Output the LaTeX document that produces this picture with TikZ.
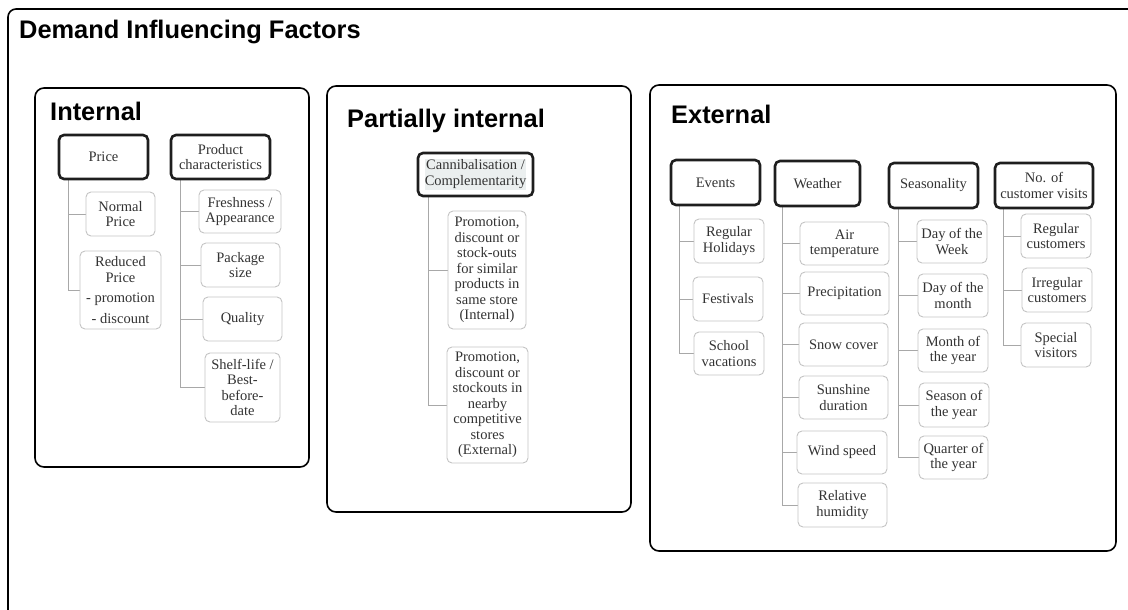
\documentclass[tikz,border=0pt]{standalone}
\usepackage{fontspec}
\usepackage{graphicx}
\setmainfont{Liberation Serif}
\newfontfamily\hdfont{Liberation Sans}
\usetikzlibrary{backgrounds}
\definecolor{txt}{HTML}{333333}
\definecolor{pdark}{HTML}{1E1E1E}
\definecolor{cgray}{HTML}{C4C4C4}
\definecolor{lgray}{HTML}{A8A8A8}
\definecolor{hl}{HTML}{EBEFEF}
\newcommand\fs{\fontsize{14.5}{15.5}\selectfont}
\newcommand\bx[7][child]{\node[#1, minimum width=#5-#3, minimum height=#6-#4] (#2) at ({(#3+#5)/2},{(#4+#6)/2}) {#7};}
\begin{document}
\begin{tikzpicture}[x=1pt,y=-1pt,
  outerframe/.style={draw=black, line width=1.6pt, rounded corners=8pt},
  panel/.style={draw=black, line width=1.6pt, rounded corners=9pt},
  parent/.style={draw=pdark, line width=2.6pt, rounded corners=5pt, inner sep=0pt, align=center, text=txt, font=\fs, fill=white},
  child/.style={draw=cgray, line width=0.9pt, rounded corners=5pt, inner sep=0pt, align=center, text=txt, font=\fs, fill=white},
  conn/.style={draw=lgray, line width=1pt},
  title/.style={anchor=base west, inner sep=0pt, text=black, font=\hdfont\bfseries\fontsize{25.4}{29}\selectfont}]
\useasboundingbox (0,0) rectangle (1128,610);
\clip (0,0) rectangle (1128,610);
\draw[outerframe] (8,9) rectangle (1160,650);
\node[title] (maintitle) at (19,38.5) {Demand Influencing Factors};

% panels
\draw[panel] (35,88) rectangle (309,467);
\draw[panel] (327,86) rectangle (631,512);
\draw[panel] (650,85) rectangle (1116,551);
\node[title] (tint) at (50,121) {Internal};
\node[title] (tpart) at (347,127.5) {Partially internal};
\node[title] (text) at (671,123.5) {External};

% Internal
\bx[parent]{price}{59}{135}{148}{179}{Price}
\bx[parent]{prod}{171}{135}{270}{179}{Product\\characteristics}
\bx{np}{86}{192}{155}{236}{Normal\\Price}
\bx{rp}{80}{251}{161}{329}{Reduced\\Price\\[5pt]- promotion\\[5pt]- discount}
\bx{fa}{199}{190}{281}{233}{Freshness /\\Appearance}
\bx{ps}{201}{243}{280}{287}{Package\\size}
\bx{qu}{203}{297}{282}{341}{Quality}
\bx{sl}{205}{353}{280}{422}{Shelf-life /\\Best-\\before-\\date}

% Partially internal
\bx[parent]{cann}{418}{153}{533}{196}{{\setlength{\fboxsep}{0pt}\colorbox{hl}{\begin{tabular}{@{}c@{}}Cannibalisation /\\Complementarity\end{tabular}}}}
\bx{pra}{448}{211}{526}{329}{Promotion,\\discount or\\stock-outs\\for similar\\products in\\same store\\(Internal)}
\bx{prb}{447}{347}{528}{463}{Promotion,\\discount or\\stockouts in\\nearby\\competitive\\stores\\(External)}

% External
\bx[parent]{ev}{671}{160}{760}{205}{Events}
\bx[parent]{we}{775}{161}{860}{206}{Weather}
\bx[parent]{se}{889}{163}{978}{208}{Seasonality}
\bx[parent]{cu}{995}{163}{1093}{208}{No. of\\customer visits}
\bx{rh}{694}{219}{764}{263}{Regular\\Holidays}
\bx{fe}{693}{277}{763}{321}{Festivals}
\bx{sv}{694}{332}{764}{375}{School\\vacations}
\bx{at}{800}{222}{889}{265}{Air\\temperature}
\bx{pc}{800}{272}{889}{315}{Precipitation}
\bx{sc}{799}{323}{888}{366}{Snow cover}
\bx{sd}{799}{376}{888}{419}{Sunshine\\duration}
\bx{ws}{797}{431}{887}{474}{Wind speed}
\bx{rhu}{798}{483}{887}{527}{Relative\\humidity}
\bx{dw}{917}{220}{987}{263}{Day of the\\Week}
\bx{dm}{918}{274}{988}{317}{Day of the\\month}
\bx{my}{918}{329}{988}{372}{Month of\\the year}
\bx{sy}{919}{383}{989}{427}{Season of\\the year}
\bx{qy}{919}{436}{988}{479}{Quarter of\\the year}
\bx{rc}{1021}{214}{1091}{258}{Regular\\customers}
\bx{ic}{1022}{268}{1092}{312}{Irregular\\customers}
\bx{sp}{1021}{323}{1091}{367}{Special\\visitors}

\begin{pgfonlayer}{background}
\foreach \c in {np,rp} \draw[conn] ([xshift=10.5pt]price.south west) |- (\c.west);
\foreach \c in {fa,ps,qu,sl} \draw[conn] ([xshift=11pt]prod.south west) |- (\c.west);
\foreach \c in {pra,prb} \draw[conn] ([xshift=12pt]cann.south west) |- (\c.west);
\foreach \c in {rh,fe,sv} \draw[conn] ([xshift=10pt]ev.south west) |- (\c.west);
\foreach \c in {at,pc,sc,sd,ws,rhu} \draw[conn] ([xshift=9pt]we.south west) |- (\c.west);
\foreach \c in {dw,dm,my,sy,qy} \draw[conn] ([xshift=10.5pt]se.south west) |- (\c.west);
\foreach \c in {rc,ic,sp} \draw[conn] ([xshift=10pt]cu.south west) |- (\c.west);
\end{pgfonlayer}
\end{tikzpicture}
\end{document}
